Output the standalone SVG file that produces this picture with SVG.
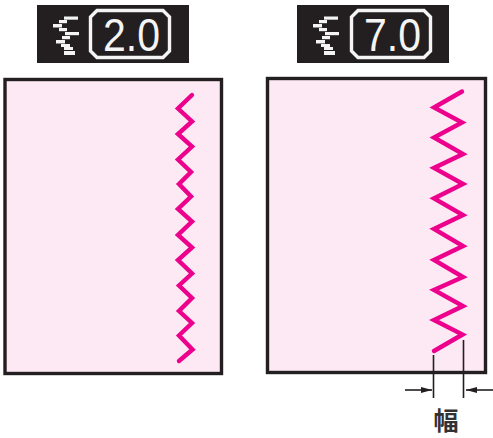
<svg xmlns="http://www.w3.org/2000/svg" width="493" height="438" viewBox="0 0 493 438">
  <style>
    .panel { fill: #231f20; }
    .frame { fill: #fde9f3; stroke: #231f20; stroke-width: 3.4; }
    .stitch { fill: none; stroke: #ec008c; stroke-width: 4.4; stroke-linecap: round; stroke-linejoin: miter; }
    .lcd { fill: #f4f4f4; }
    .lcdbox { fill: none; stroke: #f4f4f4; stroke-width: 3.4; }
    .val { font-family: "Liberation Sans", Arial, sans-serif; font-size: 46px; fill: #f4f4f4; }
    .dim { fill: none; stroke: #231f20; stroke-width: 1.6; }
    .label { font-family: "Noto Sans CJK JP", "Noto Sans CJK SC", sans-serif; font-size: 25px; font-weight: 700; fill: #333132; text-anchor: middle; }
  </style>
  <defs>
    <g id="stitch-icon" class="lcd">
      <rect x="64" y="16.500" width="14" height="3.200"/>
      <rect x="59" y="20" width="8" height="3.200"/>
      <rect x="53" y="24" width="9" height="3.500"/>
      <rect x="59" y="28" width="8" height="3.200"/>
      <rect x="65" y="32" width="14" height="3.200"/>
      <rect x="62" y="36" width="8" height="3.200"/>
      <rect x="56" y="40" width="9" height="3.500"/>
      <rect x="61" y="44" width="9" height="3"/>
      <rect x="64" y="47" width="9" height="3"/>
      <rect x="64" y="51" width="11" height="4"/>
    </g>
    <path id="lcd-box" class="lcdbox" d="M97 10.500H163L169.500 17V51L163 57.500H97L90.500 51V17Z"/>
    <marker id="dim-head" markerWidth="11" markerHeight="7" refX="11" refY="3.500" orient="auto" markerUnits="userSpaceOnUse">
      <path d="M0 0.500L11 3.500L0 6.500Z" fill="#231f20"/>
    </marker>
  </defs>

  <g id="display-left">
    <rect class="panel" x="37" y="5" width="152" height="58"/>
    <use href="#stitch-icon"/>
    <use href="#lcd-box"/>
    <text class="val" x="103" y="50.500" textLength="57" lengthAdjust="spacingAndGlyphs">2.0</text>
  </g>
  <g id="display-right">
    <rect class="panel" x="297" y="5" width="152" height="58"/>
    <use href="#stitch-icon" x="260"/>
    <use href="#lcd-box" x="261"/>
    <text class="val" x="364" y="50.500" textLength="57" lengthAdjust="spacingAndGlyphs">7.0</text>
  </g>

  <g id="fabric-left">
    <rect class="frame" x="5" y="79.500" width="216.500" height="294"/>
    <polyline class="stitch" points="192,95 178,108.500 192,121.500 178,134 192,146.500 178,159.500 191,172 179,184 191,196.500 178,209 192,221.500 178,235 192,247.500 178,260 192,273.500 179,285.500 192,298 179,311 192,323 179,335.500 192.500,349.500 179,361"/>
  </g>
  <g id="fabric-right">
    <rect class="frame" x="267.500" y="78.500" width="218" height="294"/>
    <polyline class="stitch" points="462,91.500 434,107.500 462,122.500 434,137.500 463,154 434,168 463,184 434,198.500 463,215 434,229 463,246 434,260 463,277 434,290 463,306 434,320 462.500,334.500 434,351"/>
  </g>

  <g id="connectors">
    <line class="dim" x1="433.500" y1="355" x2="433.500" y2="398"/>
    <line class="dim" x1="463.500" y1="340" x2="463.500" y2="398"/>
    <line class="dim" x1="405" y1="390" x2="432" y2="390" marker-end="url(#dim-head)"/>
    <line class="dim" x1="493" y1="390" x2="466" y2="390" marker-end="url(#dim-head)"/>
  </g>
  <g id="width-label">
    <text class="label" x="446" y="430">幅</text>
  </g>
</svg>
